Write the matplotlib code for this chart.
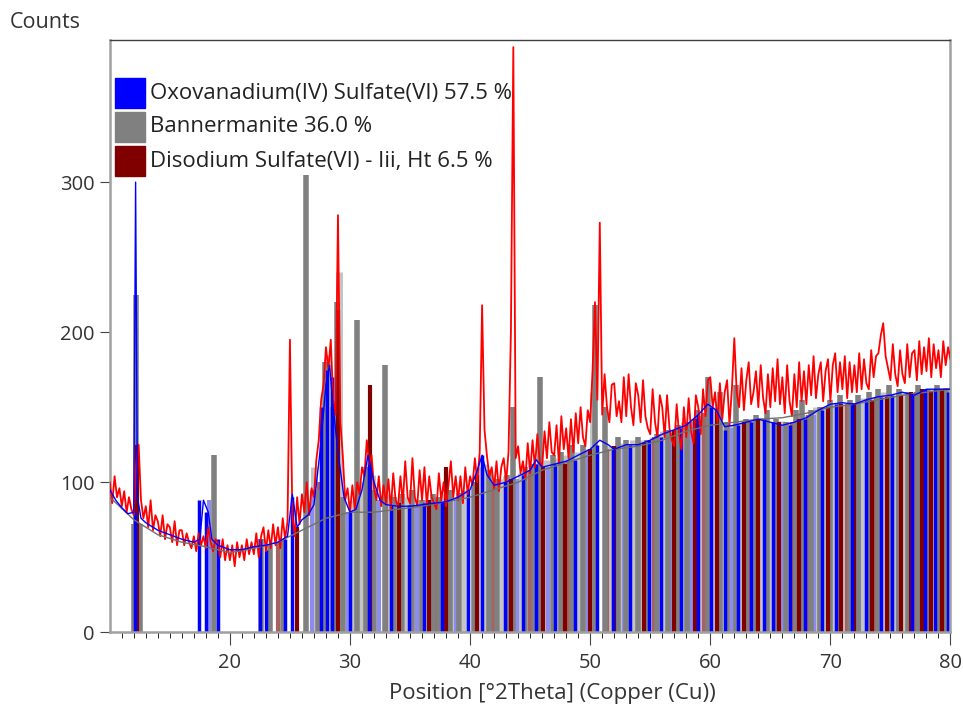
import numpy as np
import matplotlib.pyplot as plt
from matplotlib.patches import Rectangle

plt.rcParams['font.family'] = ['Open Sans', 'DejaVu Sans']

# observed counts, one value every 0.2 deg from 10.0 to 80.0
obs = [
    100, 86, 104, 90, 96,   84, 94, 80, 90, 82,   78, 112, 125, 88, 76,
    84, 70, 88, 68, 78,     74, 64, 78, 62, 72,   70, 60, 74, 58, 68,
    68, 58, 66, 60, 56,     64, 54, 66, 58, 64,   56, 70, 60, 54, 62,
    60, 50, 62, 48, 58,     48, 58, 44, 60, 50,   58, 48, 62, 52, 60,
    52, 66, 50, 64, 70,     54, 68, 56, 72, 58,   70, 56, 76, 62, 74,
    195, 78, 64, 90, 72,    92, 80, 100, 78, 96,  90, 115, 128, 155, 165,
    190, 175, 195, 155, 145,  278, 140, 118, 88, 96,  80, 98, 82, 100, 92,
    110, 104, 128, 112, 118,  96, 88, 104, 84, 98,  86, 102, 82, 106, 88,
    84, 104, 86, 114, 90,   86, 116, 90, 84, 108,  88, 110, 84, 104, 90,
    86, 82, 106, 88, 100,   84, 98, 114, 90, 104,  88, 104, 86, 110, 92,
    104, 98, 116, 100, 120,  218, 135, 118, 104, 110,  96, 114, 94, 110, 116,
    100, 120, 200, 390, 116,  124, 106, 114, 102, 126,  106, 128, 110, 132, 114,
    110, 134, 116, 140, 120,  118, 138, 112, 144, 122,  136, 116, 142, 120, 146,
    126, 150, 130, 124, 148,  140, 175, 220, 155, 273,  145, 172, 150, 140, 165,
    166, 144, 154, 140, 170,  144, 172, 150, 138, 166,  158, 140, 168, 144, 136,
    132, 162, 140, 130, 158,  150, 130, 158, 136, 128,  124, 152, 132, 122, 150,
    130, 156, 134, 126, 158,  150, 132, 162, 144, 168,  170, 150, 160, 140, 166,
    142, 160, 168, 138, 162,  196, 160, 150, 176, 148,  168, 180, 152, 160, 174,
    150, 178, 156, 146, 172,  150, 176, 154, 182, 152,  170, 146, 178, 154, 144,
    172, 150, 180, 154, 174,  152, 178, 158, 184, 156,  172, 180, 154, 174, 182,
    154, 178, 186, 160, 180,  162, 184, 156, 180, 160,  178, 160, 186, 162, 182,
    166, 162, 188, 170, 184,  186, 198, 206, 184, 176,  168, 192, 172, 164, 188,
    172, 166, 192, 170, 186,  188, 168, 194, 172, 190,  174, 196, 170, 192, 176,
    188, 170, 194, 178, 190,  182,
]
obs_x = np.linspace(10, 80, len(obs))

# calculated profile
calc_x = [10.0, 10.5, 11.0, 11.5, 12.0, 12.15, 12.3, 12.6, 13, 14, 15, 16, 17, 17.5, 17.8,
          18.2, 18.5, 19, 20, 21, 22, 23, 24, 24.8, 25.2, 25.6, 26.0, 26.5, 27.0, 27.5,
          28.0, 28.3, 28.6, 29.0, 29.5, 30, 30.5, 31, 31.5, 32, 32.5, 33, 34, 35, 36,
          37, 38, 39, 40, 40.6, 41, 41.4, 42, 43, 44, 45, 45.5, 46, 47, 48, 49, 50,
          50.8, 51.5, 52, 53, 54, 55, 56, 57, 58, 59, 59.8, 60.5, 61.2, 62, 63, 64,
          65, 66, 67, 68, 69, 70, 71, 72, 73, 74, 75, 76, 77, 78, 79, 80]
calc_y = [95, 88, 83, 79, 80, 300, 90, 76, 73, 68, 65, 62, 60, 62, 88,
          80, 62, 58, 55, 55, 57, 58, 60, 64, 92, 70, 75, 78, 85, 120,
          165, 178, 150, 120, 90, 80, 82, 95, 118, 100, 88, 85, 84, 84, 85,
          86, 87, 90, 95, 108, 118, 105, 98, 100, 104, 108, 115, 110, 112, 114, 118, 122,
          128, 125, 122, 125, 125, 128, 132, 135, 138, 145, 152, 148, 137, 138, 140, 142,
          140, 138, 140, 143, 148, 152, 153, 152, 155, 157, 158, 160, 158, 162, 162, 162]

# background
bg_x = [10, 12, 14, 16, 18, 20, 22, 24, 26, 28, 30, 32, 34, 36, 38, 40, 42, 44, 46, 48,
        50, 52, 54, 56, 58, 60, 62, 64, 66, 68, 70, 72, 74, 76, 78, 80]
bg_y = [90, 75, 65, 60, 57, 53, 56, 60, 68, 76, 80, 80, 82, 84, 87, 90, 95, 100, 108, 113,
        118, 122, 124, 128, 134, 138, 140, 142, 143, 146, 150, 152, 155, 158, 160, 162]

# reference sticks: Oxovanadium(IV) Sulfate(VI)
ox_pos = [12.1, 17.4, 18.0, 19.0, 22.5, 23.0, 24.6, 25.2, 27.6, 28.1, 28.5, 30.0, 31.6, 33.4,
          34.9, 36.2, 37.7, 39.8, 41.0, 42.9, 44.4, 45.5, 47.1, 48.7, 50.6, 51.9, 53.3, 54.9,
          55.9, 57.6, 59.0, 60.1, 61.2, 62.3, 63.4, 64.5, 65.2, 66.6, 67.9, 69.3, 70.5, 71.8,
          73.0, 74.2, 75.1, 76.8, 77.9, 78.7, 79.8]
ox_h = [80, 88, 80, 62, 62, 55, 62, 90, 150, 175, 170, 80, 115, 85,
        85, 86, 87, 95, 118, 100, 105, 112, 112, 115, 125, 122, 125, 128,
        130, 136, 145, 150, 135, 138, 140, 142, 140, 138, 142, 148, 152, 152,
        155, 157, 158, 158, 162, 162, 160]
ox_weak_pos = [18.3, 26.8, 29.8, 32.4, 35.6, 38.8, 43.9, 46.5, 49.8, 52.8, 56.8, 58.4, 61.8,
               63.9, 66.0, 68.6, 72.4, 75.6, 78.3]
ox_weak_h = [88, 95, 80, 88, 84, 88, 102, 110, 120, 124, 133, 140, 136,
             141, 138, 145, 153, 158, 161]

# Bannermanite
ban_pos = [12.0, 12.2, 12.5, 18.7, 22.6, 23.3, 24.4, 26.3, 27.3, 27.9, 28.6, 28.9, 29.4, 30.6,
           31.3, 32.0, 32.9, 33.7, 34.3, 35.2, 36.0, 36.9, 37.4, 38.3, 39.1, 40.3, 41.6, 42.2,
           43.1, 43.6, 44.6, 45.3, 45.8, 46.9, 47.6, 48.5, 49.4, 50.4, 51.2, 52.3, 53.0, 54.0,
           54.7, 55.6, 56.5, 57.3, 58.1, 58.9, 59.8, 60.8, 61.4, 62.1, 63.0, 63.8, 64.7, 65.5,
           66.3, 67.1, 67.6, 68.4, 69.1, 70.0, 70.8, 71.6, 72.3, 73.2, 74.0, 74.9, 75.7, 76.5,
           77.3, 78.1, 78.9, 79.6]
ban_h = [72, 225, 72, 118, 62, 58, 62, 305, 95, 180, 150, 220, 90, 208,
         110, 95, 178, 90, 92, 95, 88, 92, 90, 95, 93, 100, 108, 102,
         105, 150, 110, 112, 170, 118, 120, 125, 125, 218, 150, 130, 128, 130,
         128, 132, 135, 138, 140, 148, 170, 160, 140, 165, 142, 145, 148, 142,
         140, 148, 155, 148, 150, 155, 158, 155, 158, 160, 162, 165, 162, 160,
         165, 162, 165, 163]
ban_weak_pos = [12.3, 27.0, 28.2, 29.1, 30.3, 31.0, 31.8, 33.3, 34.8, 35.8, 36.4, 37.9, 38.6,
                39.6, 40.8, 41.2, 42.7, 43.0, 44.2, 45.6, 46.3, 47.3, 48.0, 49.0, 49.7, 50.2,
                51.7, 52.7, 53.3, 53.6, 54.4, 55.2, 56.1, 56.8, 57.8, 58.6, 59.3, 60.4, 61.1,
                61.7, 62.5, 63.5, 64.2, 65.0, 65.9, 66.6, 67.3, 68.0, 68.8, 69.6, 70.4, 71.3,
                71.9, 72.8, 73.5, 74.5, 75.4, 76.1, 76.9, 77.8, 78.6, 79.2, 79.9]
ban_weak_h = [70, 110, 185, 240, 88, 100, 105, 92, 90, 88, 88, 92, 90,
              95, 110, 112, 102, 104, 106, 112, 115, 116, 118, 120, 122, 160,
              124, 126, 125, 128, 128, 130, 134, 134, 140, 142, 146, 150, 140,
              138, 140, 141, 143, 140, 141, 140, 146, 145, 150, 150, 152, 152,
              153, 156, 156, 160, 158, 160, 160, 162, 162, 163, 162]

# Disodium Sulfate(VI) - Iii, Ht
na_pos = [12.3, 25.6, 29.0, 31.7, 34.1, 36.6, 38.0, 40.6, 43.4, 46.1, 47.9, 50.0, 52.0, 54.5,
          57.0, 58.7, 60.6, 62.8, 64.0, 65.7, 67.4, 69.8, 70.9, 72.0, 73.5, 74.7, 75.9, 76.7,
          77.6, 78.4, 79.3]
na_h = [125, 70, 215, 165, 86, 88, 110, 105, 102, 110, 112, 122, 124, 126,
        135, 142, 148, 140, 142, 140, 142, 150, 152, 153, 155, 157, 158, 160,
        162, 160, 162]
na_weak_pos = [24.0, 27.4, 33.0, 37.2, 41.9, 45.0, 48.2, 51.4, 55.3, 59.5, 63.3, 66.8, 68.1,
               71.4, 73.8, 77.1, 79.0]
na_weak_h = [60, 100, 90, 90, 100, 108, 115, 122, 130, 146, 140, 140, 145,
             152, 156, 160, 162]

labels = ['Oxovanadium(IV) Sulfate(VI) 57.5 %', 'Bannermanite 36.0 %',
          'Disodium Sulfate(VI) - Iii, Ht 6.5 %']
colors = ['#0000ff', '#808080', '#800000']

fig = plt.figure(figsize=(9.63, 7.08), dpi=100)
ax = fig.add_axes([0.114, 0.107, 0.873, 0.837])

ax.vlines(ban_weak_pos, 0, ban_weak_h, color='#c4c4c4', lw=5, zorder=1)
ax.vlines(ox_weak_pos, 0, ox_weak_h, color='#8c8cf0', lw=3, zorder=1)
ax.vlines(na_weak_pos, 0, na_weak_h, color='#a86060', lw=3, zorder=1)
ax.vlines(ban_pos, 0, ban_h, color='#808080', lw=4, zorder=2)
ax.vlines(na_pos, 0, na_h, color='#800000', lw=3, zorder=2)
ax.vlines(ox_pos, 0, ox_h, color='#0000ff', lw=2.5, zorder=2)

ax.plot(obs_x, obs, color='#ff0000', lw=1.3, zorder=3)
ax.plot(bg_x, bg_y, color='#707070', lw=1, zorder=4)
ax.plot(calc_x, calc_y, color='#0000ff', lw=1, zorder=5)

ax.set_xlim(10, 80)
ax.set_ylim(0, 395)
ax.set_xticks([20, 30, 40, 50, 60, 70, 80])
ax.set_xticks(np.arange(11, 80, 1), minor=True)
ax.set_yticks([0, 100, 200, 300])
ax.tick_params(axis='both', labelsize=14.5, colors='#444444', labelcolor='#333333',
               direction='out')
ax.tick_params(axis='x', which='major', length=9, pad=6)
ax.tick_params(axis='x', which='minor', length=4)
ax.tick_params(axis='y', length=7, pad=4)

for s in ['left', 'bottom', 'right']:
    ax.spines[s].set_color('#a0a0a0')
    ax.spines[s].set_linewidth(1.8)
ax.spines['top'].set_color('#404040')
ax.spines['top'].set_linewidth(1)

fig.text(0.574, 0.021, 'Position [°2Theta] (Copper (Cu))', fontsize=16, color='#333333',
         ha='center', va='center')
fig.text(0.01, 0.968, 'Counts', fontsize=15.5, color='#333333', va='center')

# legend: coloured squares with text, as drawn by the program
for i, (lab, col) in enumerate(zip(labels, colors)):
    top = 78 + 34 * i
    fig.patches.append(Rectangle((115 / 963, 1 - (top + 30) / 708), 30 / 963, 30 / 708,
                                 transform=fig.transFigure, facecolor=col,
                                 edgecolor=col, zorder=10))
    fig.text(150 / 963, 1 - (top + 15) / 708, lab, fontsize=16, color='#222222',
             va='center', zorder=10)

fig.savefig('out.png', dpi=100)
